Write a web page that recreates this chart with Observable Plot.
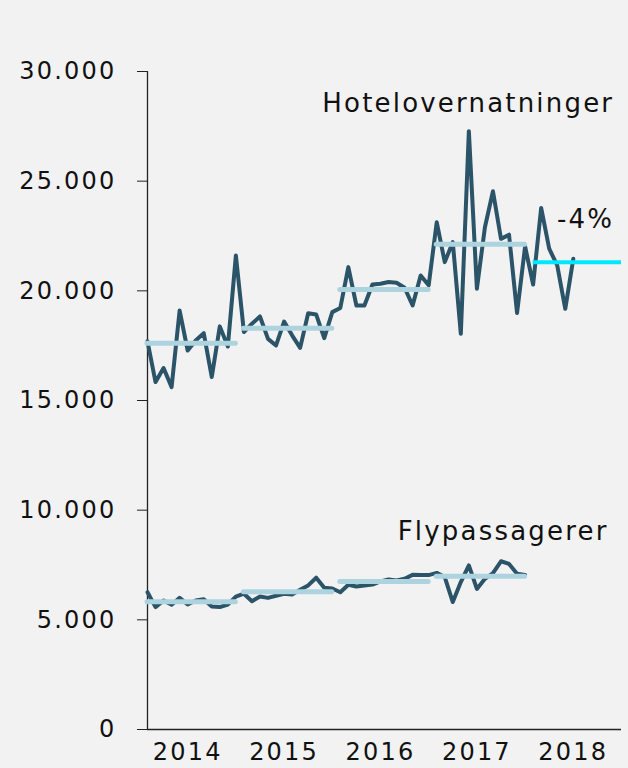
<!DOCTYPE html>
<html>
<head>
<meta charset="utf-8">
<script src="https://cdn.jsdelivr.net/npm/d3@7"></script>
<script src="https://cdn.jsdelivr.net/npm/@observablehq/plot@0.6"></script>
<style>
  html, body { margin: 0; padding: 0; background: #f2f2f2; }
  #chart { width: 628px; height: 768px; }
  #chart svg text { letter-spacing: 2.2px; }
</style>
</head>
<body>
<div id="chart"></div>
<script>
// Year tick labels
const years = [2014, 2015, 2016, 2017, 2018];
// Monthly hotel overnight stays, Jan 2014 – Jun 2018
const hotel = [
  17700, 15840, 16480, 15610, 19100, 17280, 17740, 18070, 16070, 18380, 17460, 21610,
  18120, 18500, 18830, 17810, 17510, 18600, 17970, 17400, 18980, 18920, 17840, 19030,
  19220, 21080, 19330, 19330, 20290, 20320, 20400, 20370, 20140, 19330, 20700, 20250,
  23130, 21310, 22220, 18040, 27280, 20100, 22900, 24540, 22370, 22560, 18990, 22020,
  20290, 23780, 21920, 21160, 19180, 21460
];
// Monthly air passengers, Jan 2014 – Dec 2017
const fly = [
  6260, 5580, 5880, 5690, 6000, 5700, 5880, 5940, 5610, 5580, 5700, 6060,
  6190, 5850, 6060, 6000, 6100, 6190, 6160, 6370, 6570, 6920, 6460, 6430,
  6260, 6600, 6520, 6570, 6610, 6750, 6840, 6790, 6870, 7050, 7040, 7040,
  7140, 6950, 5810, 6720, 7480, 6410, 6870, 7130, 7670, 7550, 7100, 7050
];
const yTicks = [0, 5000, 10000, 15000, 20000, 25000, 30000];
const seriesLabels = ["Hotelovernatninger", "Flypassagerer"];
const changeLabel = "-4%";

const toRows = (arr, series) => arr.map((v, i) => ({
  series, month: i, t: 2014 + i / 12, year: 2014 + Math.floor(i / 12), value: v
}));
const hotelRows = toRows(hotel, "hotel");
const flyRows = toRows(fly, "fly");

function yearMeans(rows) {
  return d3.rollups(rows, g => ({
    mean: d3.mean(g, d => d.value),
    t1: d3.min(g, d => d.t),
    t2: d3.max(g, d => d.t)
  }), d => d.year).map(([year, o]) => ({year, ...o}));
}
const hotelMeans = yearMeans(hotelRows);
const flyMeans = yearMeans(flyRows);
const xMax = 2014 + 59 / 12;
const pastMeans = [...hotelMeans.filter(d => d.year < 2018), ...flyMeans];
const curMean = hotelMeans.filter(d => d.year === 2018).map(d => ({...d, t2: xMax}));

const fmt = d => d3.format(",")(d).replace(/,/g, ".");

const DARK = "#2b5468";
const LIGHT = "#add3df";
const CYAN = "#00e8ff";

const chart = Plot.plot({
  width: 628,
  height: 768,
  marginLeft: 147,
  marginRight: 7,
  marginTop: 71,
  marginBottom: 39,
  style: { fontFamily: "DejaVu Sans", background: "#f2f2f2", color: "#111" },
  x: { domain: [2014, xMax] },
  y: { domain: [0, 30000] },
  marks: [
    Plot.axisY({ ticks: yTicks, tickSize: 10, tickPadding: 21, tickFormat: fmt, fontSize: 24, stroke: "#222" }),
    Plot.axisX({ ticks: years.map(y => y + 5 / 12), tickSize: 0, tickPadding: 13, tickFormat: d => String(Math.round(d - 5 / 12)), fontSize: 24 }),
    Plot.ruleX([2014], { stroke: "#222", strokeWidth: 1.3 }),
    Plot.ruleY([0], { stroke: "#222", strokeWidth: 1.3 }),
    Plot.line(hotelRows, { x: "t", y: "value", stroke: DARK, strokeWidth: 4, strokeLinejoin: "round", strokeLinecap: "round" }),
    Plot.line(flyRows, { x: "t", y: "value", stroke: DARK, strokeWidth: 4, strokeLinejoin: "round", strokeLinecap: "round" }),
    Plot.ruleY(pastMeans, { y: "mean", x1: "t1", x2: "t2", stroke: LIGHT, strokeWidth: 5, strokeLinecap: "round" }),
    Plot.ruleY(curMean, { y: "mean", x1: "t1", x2: "t2", stroke: CYAN, strokeWidth: 4 }),
    Plot.text([seriesLabels[0]], { x: 2014 + 58.1 / 12, y: 28550, text: d => d, textAnchor: "end", fontSize: 26, fill: "#111" }),
    Plot.text([seriesLabels[1]], { x: 2014 + 57.4 / 12, y: 9030, text: d => d, textAnchor: "end", fontSize: 26, fill: "#111" }),
    Plot.text([changeLabel], { x: 2014 + 58.1 / 12, y: 23250, text: d => d, textAnchor: "end", fontSize: 26, fill: "#111" })
  ]
});
document.getElementById("chart").appendChild(chart);
</script>
</body>
</html>
